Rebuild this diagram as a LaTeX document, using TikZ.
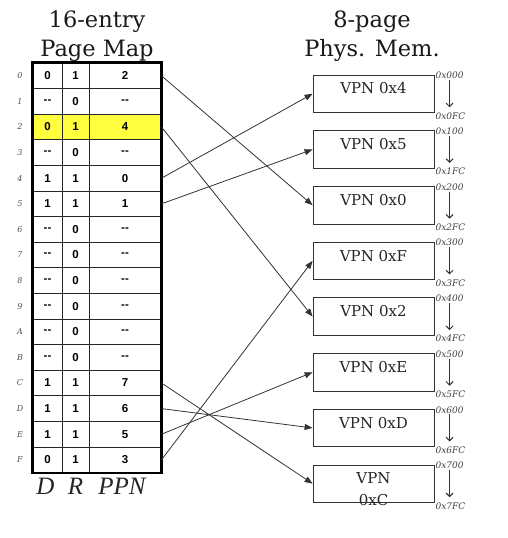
\documentclass[tikz,border=0pt]{standalone}
\usepackage{fontspec}
\setmainfont{DejaVu Serif}
\newfontfamily\cellfont{Liberation Sans}
\newfontfamily\headfont{Liberation Serif}
\usetikzlibrary{arrows.meta, positioning}
\definecolor{hilite}{RGB}{255,255,64}
\tikzset{
  cell/.style={draw=black!85, line width=1pt, inner sep=0pt, minimum height=25.6pt,
    font=\cellfont\bfseries\fontsize{11.5}{13}\selectfont},
  maplink/.style={-{Triangle[length=8pt,width=6pt]}, line width=0.8pt, black!80},
}

\begin{document}
\begin{tikzpicture}[
        x=1pt, y=-1pt,
        maptitle/.style={align=center, inner sep=0pt, text=black!90, font=\fontsize{22.5}{29}\selectfont},
        rowlabel/.style={inner sep=0pt, text=black!70, font=\itshape\fontsize{8}{10}\selectfont},
        colhead/.style={inner sep=0pt, text=black!85, font=\headfont\itshape\fontsize{25}{28}\selectfont},
        membox/.style={draw=black!80, line width=0.8pt, minimum width=121pt, minimum height=37.5pt, inner sep=0pt},
        vpn/.style={align=center, inner sep=0pt, text=black!85, font=\fontsize{15}{19}\selectfont},
        addr/.style={inner sep=1pt, text=black!75, font=\itshape\fontsize{9}{10}\selectfont},
        addrarrow/.style={-{Straight Barb[length=3.5pt,width=7pt]}, line width=1pt, black!80, shorten >=4pt},
    ]
        \useasboundingbox (0,0) rectangle (508,538);

        % titles
        \node[maptitle, anchor=south] (mapname) at (97,62) {16-entry\\Page Map};
        \node[maptitle, anchor=south] (memname) at (372,62) {8-page\\Phys. Mem.};

        % page map
        \foreach \i/\h/\d/\r/\p in {0/0/0/1/2, 1/1/-{}-/0/-{}-, 2/2/0/1/4, 3/3/-{}-/0/-{}-,
            4/4/1/1/0, 5/5/1/1/1, 6/6/-{}-/0/-{}-, 7/7/-{}-/0/-{}-, 8/8/-{}-/0/-{}-,
            9/9/-{}-/0/-{}-, 10/A/-{}-/0/-{}-, 11/B/-{}-/0/-{}-, 12/C/1/1/7,
            13/D/1/1/6, 14/E/1/1/5, 15/F/0/1/3}{
            \ifnum\i=2 \def\rowfill{hilite}\else\def\rowfill{white}\fi
            \pgfmathsetmacro\ry{63+25.6*(\i+0.5)}
            \node[cell, fill=\rowfill, minimum width=29pt] (d\i) at (47.5,\ry) {\d};
            \node[cell, fill=\rowfill, minimum width=27pt] (r\i) at (75.5,\ry) {\r};
            \node[cell, fill=\rowfill, minimum width=72pt] (p\i) at (125,\ry) {\p};
            \node[rowlabel] (row\i) at (20,\ry) {\h};
        }
        \draw[line width=2.4pt] (d0.north west) rectangle (p15.south east);

        \node[colhead, below=5pt of d15, xshift=-2pt] (dhead) {D};
        \node[colhead, below=5pt of r15] (rhead) {R};
        \node[colhead, below=5pt of p15, xshift=-3pt] (phead) {PPN};

        % physical memory
        \foreach \i/\v in {0/{VPN 0x4}, 1/{VPN 0x5}, 2/{VPN 0x0}, 3/{VPN 0xF},
            4/{VPN 0x2}, 5/{VPN 0xE}, 6/{VPN 0xD}, 7/{VPN\\\rule{0pt}{21pt}0xC}}{
            \pgfmathsetmacro\my{75+55.7*\i+18.75}
            \node[membox] (mem\i) at (373.5,\my) {};
            \node[vpn, below=8pt of mem\i.north] (vpn\i) {\v};
            \node[addr, anchor=west] (addrtop\i) at ([yshift=-1pt]mem\i.north east) {0x\i00};
            \node[addr, anchor=west] (addrbot\i) at ([yshift=-3pt]mem\i.south east) {0x\i FC};
            \draw[addrarrow] (addrtop\i.south) -- (addrtop\i.south |- addrbot\i.north);
        }

        % mapping
        \foreach \row/\page in {0/2, 2/4, 4/0, 5/1, 12/7, 13/6, 14/5, 15/3}
            \draw[maplink] (p\row.east) -- (mem\page.west);
    \end{tikzpicture}
\end{document}
